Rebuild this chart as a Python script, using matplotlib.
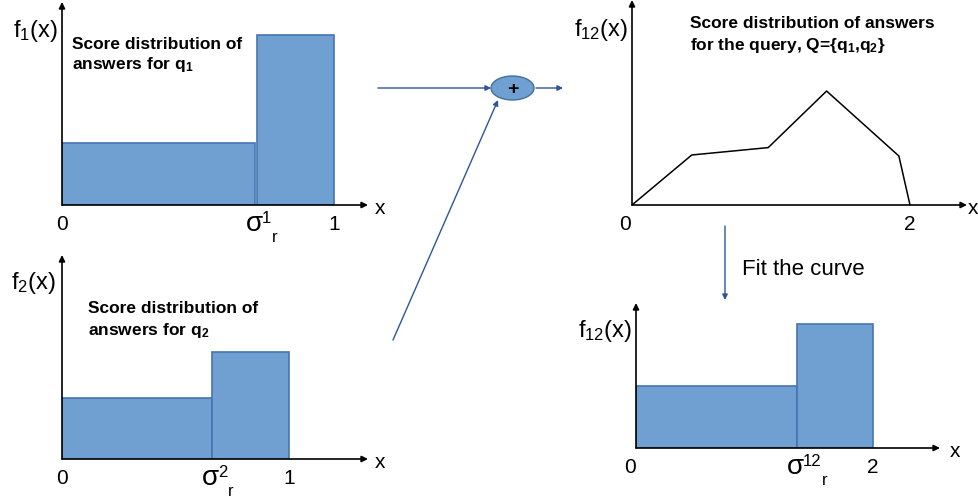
import matplotlib
matplotlib.use("Agg")
import matplotlib.pyplot as plt
from matplotlib.patches import Ellipse

plt.rcParams["font.family"] = ["Liberation Sans", "DejaVu Sans"]
plt.rcParams["mathtext.fontset"] = "custom"
plt.rcParams["mathtext.rm"] = "Liberation Sans"
plt.rcParams["mathtext.it"] = "Liberation Sans"
plt.rcParams["mathtext.bf"] = "Liberation Sans:bold"
plt.rcParams["mathtext.default"] = "regular"

W, H = 979, 501

# ---------------- data (heights in arbitrary units) ----------------
q1_left = [0.0, 0.716]
q1_right = [0.711, 1.0]
q1_heights = [0.305, 0.837]
q1_sigma = 0.713

q2_left = [0.0, 0.661]
q2_right = [0.661, 1.0]
q2_heights = [0.30, 0.525]
q2_sigma = 0.661

sum_x = [0.0, 0.43, 0.98, 1.40, 1.92, 2.0]
sum_y = [0.0, 0.244, 0.28, 0.556, 0.239, 0.0]

fit_left = [0.0, 1.359]
fit_right = [1.359, 2.0]
fit_heights = [0.428, 0.855]
fit_sigma = 1.359
# -----------------------------------------------------------------------------------------

BAR_FC = "#70a0d2"
BAR_EC = "#4574b0"
LINK = "#2f5597"

fig = plt.figure(figsize=(W / 100, H / 100), dpi=100)


def panel(x0, y0, x1, y1, unit_px):
    # x0,y0 = origin in pixels (from top-left), x1 = end of x arrow, y1 = top of y arrow
    ax = fig.add_axes([x0 / W, 1 - y0 / H, (x1 - x0) / W, (y0 - y1) / H])
    xmax = (x1 - x0) / unit_px
    ax.set_xlim(0, xmax)
    ax.set_ylim(0, 1)
    ax.axis("off")
    arr = dict(arrowstyle="-|>", color="black", lw=1.2, mutation_scale=9,
               shrinkA=0, shrinkB=0)
    ax.annotate("", xy=(xmax, 0), xytext=(0, 0), arrowprops=arr,
                annotation_clip=False, zorder=5)
    ax.annotate("", xy=(0, 1), xytext=(0, 0), arrowprops=arr,
                annotation_clip=False, zorder=5)
    return ax, xmax


def put(ax, x, y, s, dx, dy, **kw):
    kw.setdefault("va", "baseline")
    kw.setdefault("ha", "center")
    ax.annotate(s, xy=(x, y), xytext=(dx, dy), textcoords="offset pixels",
                annotation_clip=False, **kw)


def bars(ax, left, right, heights):
    widths = [r - l for l, r in zip(left, right)]
    ax.bar(left, heights, width=widths, align="edge", color=BAR_FC,
           edgecolor=BAR_EC, lw=1.2, zorder=2)


def sigma(ax, xv, sup):
    put(ax, xv, 0, "σ", -10, -26, ha="left", fontsize=20)
    put(ax, xv, 0, sup, 6, -18, ha="left", fontsize=12)
    put(ax, xv, 0, "r", 6 + 9.5 * len(sup), -37, ha="left", fontsize=12)


def axis_texts(ax, xmax, flabel, ticks, fdx=-4, fdy=-16, zdx=0, xdx=12):
    put(ax, 0, 1, flabel, fdx, fdy, ha="right", va="top", fontsize=17)
    for xv, s in ticks:
        put(ax, xv, 0, s, zdx if xv == 0 else 0, -25, fontsize=15)
    put(ax, xmax, 0, "x", xdx, -9, fontsize=15)


# --- f1 ---
ax1, xm1 = panel(62, 205, 368, 2, 272)
bars(ax1, q1_left, q1_right, q1_heights)
axis_texts(ax1, xm1, "f$_1$(x)", [(0, "0"), (1, "1")])
sigma(ax1, q1_sigma, "1")
put(ax1, 0, 1, "Score distribution of", 10, -47, ha="left",
    fontsize=12.5, fontweight="bold")
put(ax1, 0, 1, "answers for q$_{\\mathbf{1}}$", 10, -67, ha="left",
    fontsize=12.5, fontweight="bold")

# --- f2 ---
ax2, xm2 = panel(62, 459, 368, 255, 227)
bars(ax2, q2_left, q2_right, q2_heights)
axis_texts(ax2, xm2, "f$_2$(x)", [(0, "0"), (1, "1")], fdx=-6, fdy=-15)
sigma(ax2, q2_sigma, "2")
put(ax2, 0, 1, "Score distribution of", 26, -58, ha="left",
    fontsize=12.5, fontweight="bold")
put(ax2, 0, 1, "answers for q$_{\\mathbf{2}}$", 26, -80, ha="left",
    fontsize=12.5, fontweight="bold")

# --- f12 summed curve ---
ax3, xm3 = panel(632, 205, 967, 0, 139)
ax3.plot(sum_x, sum_y, color="black", lw=1.1, zorder=3)
axis_texts(ax3, xm3, "f$_{12}$(x)", [(0, "0"), (2, "2")], fdy=-17, zdx=-7,
           xdx=6)
put(ax3, 0, 1, "Score distribution of answers", 58, -28, ha="left",
    fontsize=12.5, fontweight="bold")
put(ax3, 0, 1, "for the query, Q={q$_{\\mathbf{1}}$,q$_{\\mathbf{2}}$}", 58, -50,
    ha="left", fontsize=12.5, fontweight="bold")

# --- f12 fitted histogram ---
ax4, xm4 = panel(636, 448, 940, 303, 118.5)
bars(ax4, fit_left, fit_right, fit_heights)
axis_texts(ax4, xm4, "f$_{12}$(x)", [(0, "0"), (2, "2")], fdy=-15, zdx=-6,
           xdx=15)
sigma(ax4, fit_sigma, "12")

# --- connectors ---
ov = fig.add_axes([0, 0, 1, 1], zorder=-1)
ov.set_xlim(0, W)
ov.set_ylim(H, 0)
ov.axis("off")
link = dict(arrowstyle="-|>", color=LINK, lw=1, mutation_scale=8,
            shrinkA=0, shrinkB=0)
ov.annotate("", xy=(491, 88), xytext=(378, 88), arrowprops=link)
ov.annotate("", xy=(563, 88), xytext=(536, 88), arrowprops=link)
ov.annotate("", xy=(498, 100), xytext=(393, 340), arrowprops=link)
ov.annotate("", xy=(725, 300), xytext=(725, 226), arrowprops=link)
ov.add_patch(Ellipse((512.5, 88), 43, 24, fc=BAR_FC, ec="#41719c", lw=1))
ov.text(512.5, 89, "+", ha="center", va="center", fontsize=14, fontweight="bold")
ov.text(742, 275, "Fit the curve", ha="left", va="baseline", fontsize=16)

fig.savefig("out.png", dpi=100)
